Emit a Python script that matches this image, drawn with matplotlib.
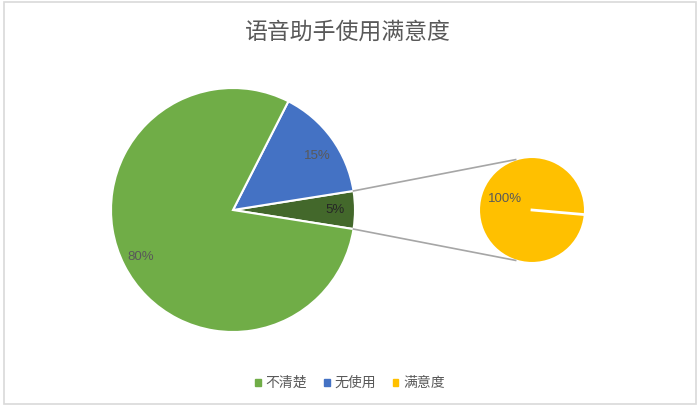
import numpy as np
import matplotlib.pyplot as plt
from matplotlib.patches import Rectangle, Patch

plt.rcParams['font.family'] = ['Noto Sans CJK SC', 'DejaVu Sans']

# data
title = "语音助手使用满意度"
categories = ["不清楚", "无使用", "满意度"]
main_values = [5, 15, 80]          # 满意度 (other), 无使用, 不清楚
main_labels = ["5%", "15%", "80%"]
sub_values = [100]
sub_labels = ["100%"]

c_green = "#70AD47"
c_blue = "#4472C4"
c_dark = "#43682B"
c_yellow = "#FFC000"
text_grey = "#595959"

W, H = 700, 411
fig = plt.figure(figsize=(W / 100, H / 100), dpi=100)
ax = fig.add_axes([0, 0, 1, 1])

# chart border
ax.add_patch(Rectangle((4, 7), 692, 402, fill=False, ec="#D9D9D9", lw=1.2))

main_c = (233, H - 210)
main_r = 122
sub_c = (532, H - 210)
sub_r = 53

wedges, _ = ax.pie(main_values, colors=[c_dark, c_blue, c_green], startangle=-9,
                   center=main_c, radius=main_r,
                   wedgeprops=dict(edgecolor="white", linewidth=1.5))
ax.pie(sub_values, colors=[c_yellow], startangle=-5, center=sub_c, radius=sub_r,
       wedgeprops=dict(edgecolor="white", linewidth=1.5))
# white separator line on the single-slice pie
a = np.deg2rad(-5)
ax.plot([sub_c[0], sub_c[0] + sub_r * np.cos(a)], [sub_c[1], sub_c[1] + sub_r * np.sin(a)],
        color="white", lw=2)

ax.set_xlim(0, W)
ax.set_ylim(0, H)
ax.set_aspect("equal")
ax.axis("off")

# connector lines
t1, t2 = np.deg2rad(wedges[0].theta1), np.deg2rad(wedges[0].theta2)
for t, s in [(t2, np.deg2rad(108)), (t1, np.deg2rad(252))]:
    x0 = main_c[0] + main_r * np.cos(t)
    y0 = main_c[1] + main_r * np.sin(t)
    x1 = sub_c[0] + sub_r * np.cos(s)
    y1 = sub_c[1] + sub_r * np.sin(s)
    ax.plot([x0, x1], [y0, y1], color="#A6A6A6", lw=1.2)

# data labels
pct_font = ["Liberation Sans", "DejaVu Sans"]
label_pos = [(0.84, 0, "#262626"), (0.82, -3, text_grey), (0.85, 0, text_grey)]
for w, lab, (fr, da, col) in zip(wedges, main_labels, label_pos):
    mid = np.deg2rad((w.theta1 + w.theta2) / 2 + da)
    ax.text(main_c[0] + fr * main_r * np.cos(mid), main_c[1] + fr * main_r * np.sin(mid),
            lab, ha="center", va="center", fontsize=9.5, color=col, family=pct_font)
ax.text(sub_c[0] - 27, sub_c[1] + 11, sub_labels[0], ha="center", va="center",
        fontsize=9.5, color=text_grey, family=pct_font)

ax.text(W / 2 - 2, H - 32, title, ha="center", va="center", fontsize=16.5, color=text_grey)

handles = [Patch(color=c) for c in [c_green, c_blue, c_yellow]]
fig.legend(handles, categories, loc="center", bbox_to_anchor=(0.5, 1 - 383 / H),
           ncol=3, frameon=False, fontsize=10, labelcolor=text_grey,
           handlelength=0.4, handleheight=0.4, handletextpad=0.35, columnspacing=1.2)

fig.savefig("out.png", dpi=100)
